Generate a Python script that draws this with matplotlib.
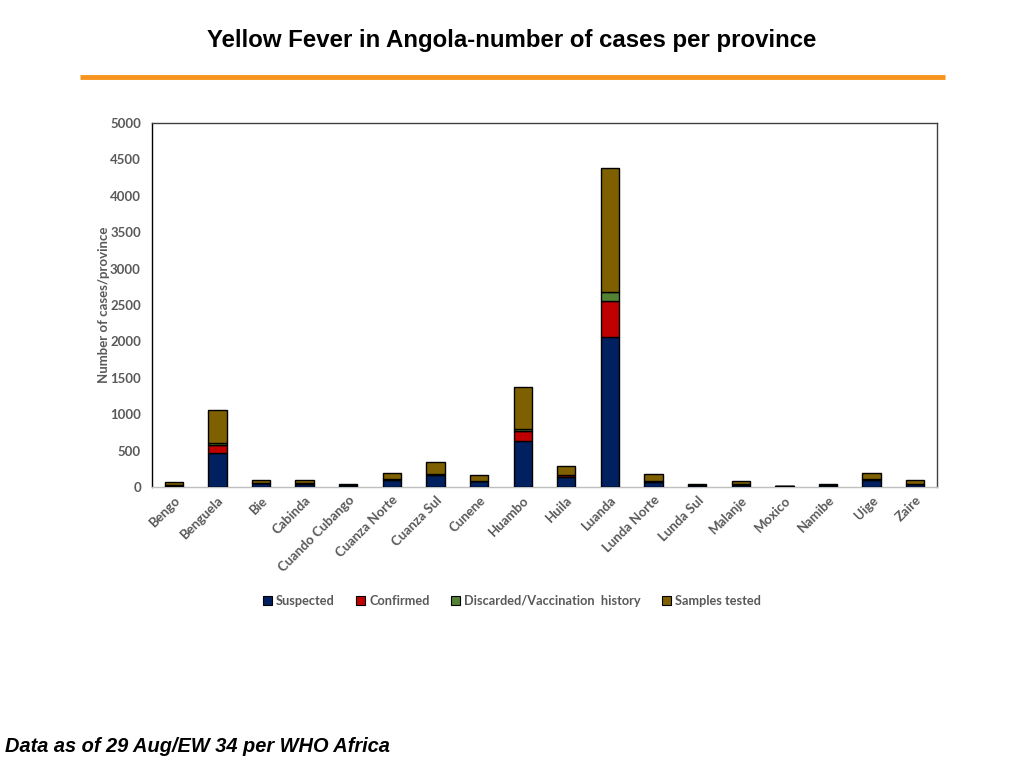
import matplotlib
matplotlib.use("Agg")
import matplotlib.pyplot as plt
import numpy as np
from matplotlib.patches import Patch
from matplotlib.lines import Line2D

provinces = ["Bengo", "Benguela", "Bie", "Cabinda", "Cuando Cubango", "Cuanza Norte",
             "Cuanza Sul", "Cunene", "Huambo", "Huila", "Luanda", "Lunda Norte",
             "Lunda Sul", "Malanje", "Moxico", "Namibe", "Uige", "Zaire"]
suspected = [18, 470, 50, 45, 25, 100, 165, 80, 632, 140, 2060, 70, 25, 30, 10, 25, 95, 35]
confirmed = [2, 110, 5, 3, 2, 10, 10, 5, 137, 25, 490, 15, 2, 5, 1, 2, 10, 5]
discarded = [1, 20, 2, 2, 1, 3, 3, 2, 24, 5, 135, 3, 1, 2, 1, 1, 3, 2]
samples_tested = [45, 460, 45, 50, 10, 80, 168, 75, 577, 123, 1700, 90, 10, 45, 5, 10, 85, 55]

series_names = ["Suspected", "Confirmed", "Discarded/Vaccination  history", "Samples tested"]
colors = ["#002060", "#C00000", "#548235", "#7F6000"]

grey = "#595959"
fs = 9.5
fig = plt.figure(figsize=(10.24, 7.68), dpi=100)
ax = fig.add_axes([152/1024, 1-487/768, 785/1024, 364/768])

x = np.arange(len(provinces))
bottom = np.zeros(len(provinces))
for vals, col in zip([suspected, confirmed, discarded, samples_tested], colors):
    ax.bar(x, vals, width=0.42, bottom=bottom, color=col, edgecolor="black", linewidth=1.0, zorder=3)
    bottom += np.array(vals)

ax.set_xlim(-0.5, len(provinces) - 0.5)
ax.set_ylim(0, 5000)
ax.set_yticks(np.arange(0, 5001, 500))
ax.set_xticks(x)
ax.set_xticklabels(provinces, rotation=45, ha="right", rotation_mode="anchor",
                   fontsize=fs, color=grey, fontweight="bold", family="Lato")
for lbl in ax.get_yticklabels():
    lbl.set_fontsize(fs)
    lbl.set_color(grey)
    lbl.set_fontweight("bold")
    lbl.set_family("Lato")
ax.tick_params(axis="both", length=0)
ax.tick_params(axis="y", pad=8)
ax.tick_params(axis="x", pad=5)
ax.spines["left"].set_color("#000000")
ax.spines["top"].set_color("#404040")
ax.spines["right"].set_color("#404040")
ax.spines["bottom"].set_color("#BFBFBF")
for s in ax.spines.values():
    s.set_linewidth(1.0)
ax.set_ylabel("Number of cases/province", fontsize=fs, color=grey, fontweight="bold",
              family="Lato", labelpad=0)

handles = [Patch(facecolor=c, edgecolor="black", linewidth=0.8) for c in colors]
fig.legend(handles, series_names, loc="center", bbox_to_anchor=(512/1024, 1-601/768),
           ncol=4, frameon=False, handlelength=0.7, handleheight=0.7, handletextpad=0.3,
           columnspacing=1.7, prop={"family": "Lato", "weight": "bold", "size": 9.2},
           labelcolor=grey)

fig.text(512/1024, 1-41/768, "Yellow Fever in Angola-number of cases per province",
         ha="center", va="center", fontsize=17.3, fontweight="bold", family="Liberation Sans")
fig.add_artist(Line2D([80/1024, 945/1024], [1-77/768, 1-77/768], color="#F7941D",
                      linewidth=3.5, solid_capstyle="butt", transform=fig.transFigure))
fig.text(5/1024, 1-746/768, "Data as of 29 Aug/EW 34 per WHO Africa", ha="left", va="center",
         fontsize=14.4, fontweight="bold", fontstyle="italic", family="Liberation Sans")

fig.savefig("out.png", dpi=100)
